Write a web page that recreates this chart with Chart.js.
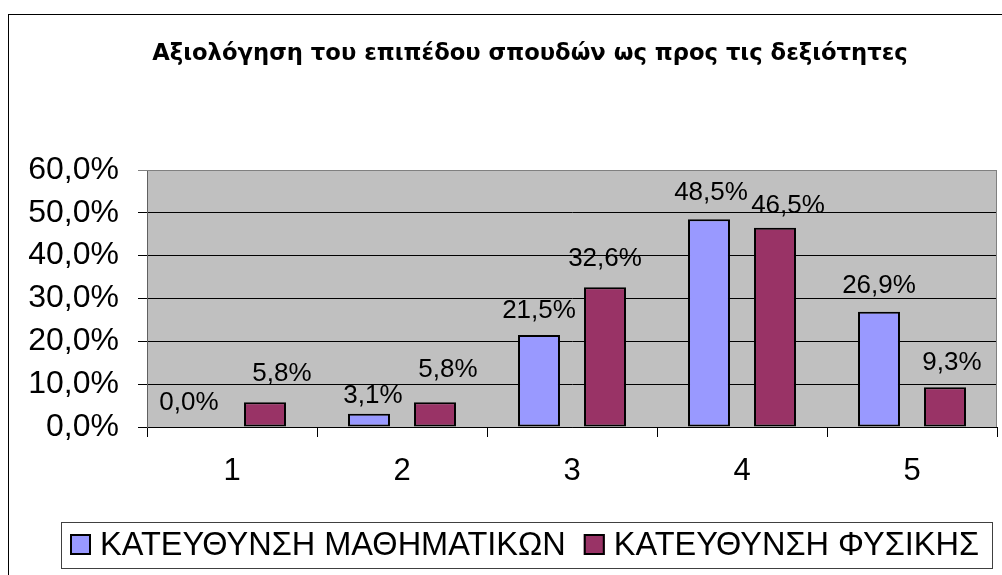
<!DOCTYPE html>
<html>
<head>
<meta charset="utf-8">
<script src="https://cdn.jsdelivr.net/npm/chart.js@4.4.0/dist/chart.umd.min.js"></script>
<style>
  html, body { margin: 0; padding: 0; overflow: hidden; background: #ffffff; }
  #wrap { position: relative; width: 1060px; height: 575px; }
</style>
</head>
<body>
<div id="wrap"><canvas id="chart" width="1060" height="575"></canvas></div>
<script>
// Categories (skill level) and the two study directions
const categories = ['1', '2', '3', '4', '5'];
const seriesNames = ['ΚΑΤΕΥΘΥΝΣΗ ΜΑΘΗΜΑΤΙΚΩΝ', 'ΚΑΤΕΥΘΥΝΣΗ ΦΥΣΙΚΗΣ'];
const mathValues = [0.0, 3.1, 21.5, 48.5, 26.9];
const physicsValues = [5.8, 5.8, 32.6, 46.5, 9.3];
const yTickValues = [0, 10, 20, 30, 40, 50, 60];
const titleText = 'Αξιολόγηση του επιπέδου σπουδών ως προς τις δεξιότητες';

// Hand-placed value labels: [dx, gap above bar top]
const mathLabelShift = [[-10, 17], [4, 11], [0, 17], [2, 19], [0, 19]];
const physicsLabelShift = [[17, 21], [13, 25], [0, 21], [13, 15], [7, 17]];

const BLUE = '#9999FF';
const PLUM = '#993366';
const FONT = "'Liberation Sans', Arial, sans-serif";
const FRAME_CENTER_X = 530;

const fmtPct = v => v.toFixed(1).replace('.', ',') + '%';

// Grey plot area, outer frame and the heading
const framePlugin = {
  id: 'frame',
  beforeDraw(chart) {
    const { ctx, chartArea: a } = chart;
    ctx.save();
    ctx.fillStyle = '#ffffff';
    ctx.fillRect(0, 0, chart.width, chart.height);
    ctx.fillStyle = '#C0C0C0';
    ctx.fillRect(a.left, a.top, a.right - a.left, a.bottom - a.top);
    ctx.strokeStyle = '#000000';
    ctx.lineWidth = 1;
    ctx.strokeRect(8.5, 14.5, 1044, 600);
    ctx.fillStyle = '#000000';
    ctx.font = "bold 22.7px 'DejaVu Sans', sans-serif";
    ctx.textAlign = 'center';
    ctx.textBaseline = 'middle';
    ctx.fillText(titleText, FRAME_CENTER_X, 54.6);
    ctx.restore();
  },
  beforeDatasetsDraw(chart) {
    const { ctx, chartArea: a } = chart;
    ctx.save();
    ctx.strokeStyle = '#808080';
    ctx.lineWidth = 1;
    ctx.beginPath();
    ctx.moveTo(a.left, a.top + 0.5);
    ctx.lineTo(a.right - 0.5, a.top + 0.5);
    ctx.lineTo(a.right - 0.5, a.bottom);
    ctx.stroke();
    ctx.restore();
  }
};

// Value labels above each bar
const valueLabelPlugin = {
  id: 'valueLabels',
  afterDatasetsDraw(chart) {
    const { ctx } = chart;
    const shifts = [mathLabelShift, physicsLabelShift];
    ctx.save();
    ctx.font = '26px ' + FONT;
    ctx.fillStyle = '#000000';
    ctx.textAlign = 'center';
    ctx.textBaseline = 'alphabetic';
    chart.data.datasets.forEach((ds, di) => {
      const meta = chart.getDatasetMeta(di);
      meta.data.forEach((bar, i) => {
        const [dx, gap] = shifts[di][i];
        ctx.fillText(fmtPct(ds.data[i]), bar.x + dx, bar.y - gap);
      });
    });
    ctx.restore();
  }
};

// Boxed legend under the axis
const legendBoxPlugin = {
  id: 'legendBox',
  afterDraw(chart) {
    const { ctx } = chart;
    const ds = chart.data.datasets;
    ctx.save();
    ctx.font = '32.5px ' + FONT;
    const marker = 21, padL = 9, gapText = 9, gapItem = 18, padR = 13;
    const widths = ds.map(d => ctx.measureText(d.label).width);
    let total = padL + padR;
    widths.forEach((w, i) => { total += marker + gapText + w + (i ? gapItem : 0); });
    const boxTop = 522, boxH = 46, centerX = 526;
    const left = Math.round(centerX - total / 2);
    ctx.strokeStyle = '#404040';
    ctx.lineWidth = 1;
    ctx.strokeRect(left + 0.5, boxTop + 0.5, Math.round(total), boxH);
    let x = left + padL;
    const midY = boxTop + boxH / 2;
    ds.forEach((d, i) => {
      if (i) x += gapItem;
      ctx.fillStyle = d.backgroundColor;
      ctx.fillRect(x, midY - 11, marker, marker);
      ctx.strokeStyle = '#000000';
      ctx.lineWidth = 2;
      ctx.strokeRect(x + 1, midY - 10, marker - 2, marker - 2);
      x += marker + gapText;
      ctx.fillStyle = '#000000';
      ctx.textAlign = 'left';
      ctx.textBaseline = 'middle';
      ctx.fillText(d.label, x, midY + 1);
      x += widths[i];
    });
    ctx.restore();
  }
};

new Chart(document.getElementById('chart'), {
  type: 'bar',
  data: {
    labels: categories,
    datasets: [
      {
        label: seriesNames[0],
        data: mathValues,
        backgroundColor: BLUE,
        borderColor: '#000000',
        borderWidth: c => (c.raw === 0 ? 0 : 2),
        borderSkipped: false
      },
      {
        label: seriesNames[1],
        data: physicsValues,
        backgroundColor: PLUM,
        borderColor: '#000000',
        borderWidth: 2,
        borderSkipped: false
      }
    ]
  },
  options: {
    responsive: false,
    animation: false,
    devicePixelRatio: 1,
    categoryPercentage: 0.7765,
    barPercentage: 0.636,
    layout: { padding: { top: 170, left: 0, right: 63, bottom: 0 } },
    plugins: {
      legend: { display: false },
      tooltip: { enabled: false },
      title: { display: false }
    },
    scales: {
      x: {
        afterFit: s => { s.height = 148; },
        grid: {
          display: true,
          drawOnChartArea: false,
          drawTicks: true,
          tickLength: 10,
          color: '#000000',
          offset: true
        },
        border: { display: true, color: '#000000', width: 1 },
        ticks: {
          color: '#000000',
          padding: 16,
          font: { family: FONT, size: 31 }
        }
      },
      y: {
        min: 0,
        max: 60,
        afterFit: s => { s.width = 147; },
        afterBuildTicks: s => { s.ticks = yTickValues.map(v => ({ value: v })); },
        grid: {
          color: c => (c.tick && c.tick.value === 60 ? '#808080' : '#000000'),
          lineWidth: 1,
          drawTicks: true,
          tickLength: 9
        },
        border: { display: true, color: '#606060', width: 1 },
        ticks: {
          color: '#000000',
          padding: 19,
          font: { family: FONT, size: 32 },
          callback: v => fmtPct(v)
        }
      }
    }
  },
  plugins: [framePlugin, valueLabelPlugin, legendBoxPlugin]
});
</script>
</body>
</html>
